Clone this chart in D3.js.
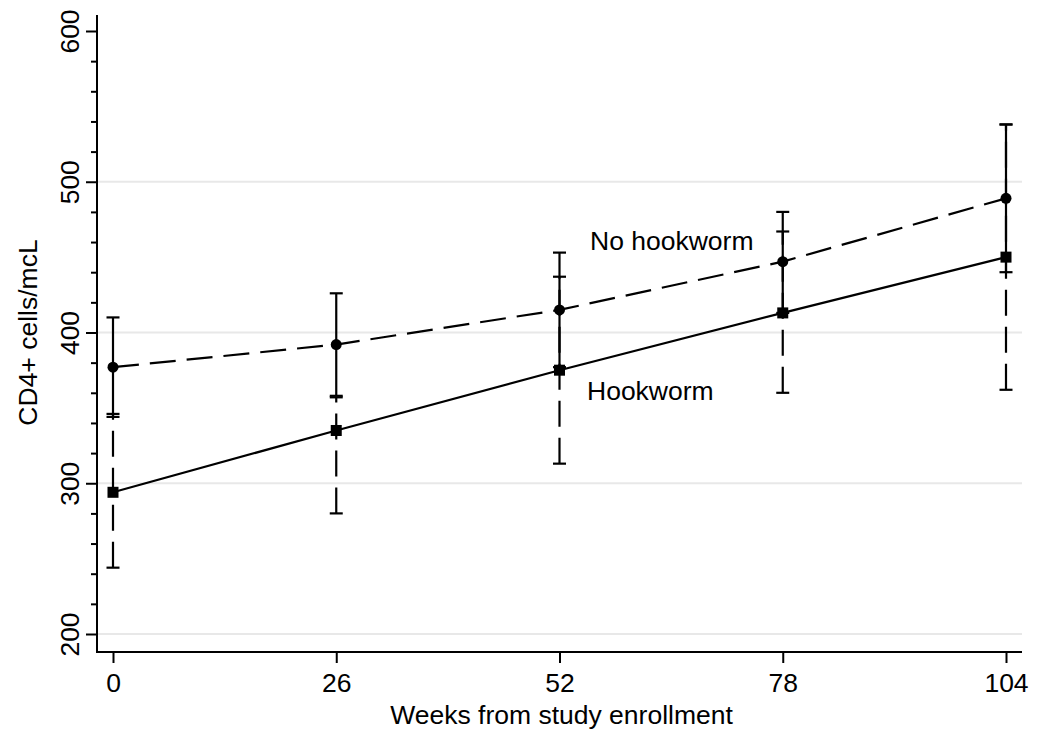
<!DOCTYPE html>
<html>
<head>
<meta charset="utf-8">
<script src="https://cdn.jsdelivr.net/npm/d3@7"></script>
<style>
  body { margin: 0; background: #fff; }
  text { font-family: Arial, "Liberation Sans", Helvetica, sans-serif; fill: #000; }
</style>
</head>
<body>
<svg id="chart" width="1043" height="730"></svg>
<script>
const weeks = [0, 26, 52, 78, 104];
const noHookMean  = [377, 392, 415, 447, 489];
const noHookLower = [344, 358, 377, 413, 440];
const noHookUpper = [410, 426, 453, 480, 538];
const hookMean  = [294, 335, 375, 413, 450];
const hookLower = [244, 280, 313, 360, 362];
const hookUpper = [346, 357, 437, 467, 538];
const xTicks = [0, 26, 52, 78, 104];
const yTicks = [200, 300, 400, 500, 600];
const yMinorTicks = d3.range(200, 601, 20).filter(v => v % 100 !== 0);
const seriesLabels = ["No hookworm", "Hookworm"];

const FS = 26.5;
const svg = d3.select("#chart");
const x = d3.scaleLinear().domain([0, 104]).range([113, 1006]);
const y = d3.scaleLinear().domain([200, 600]).range([634, 31]);
const plotLeft = 97, plotRight = 1022, plotTop = 15, plotBottom = 652;

// gridlines
svg.append("g").selectAll("line").data(yTicks.filter(v => v < 600)).join("line")
  .attr("x1", plotLeft).attr("x2", plotRight)
  .attr("y1", d => y(d)).attr("y2", d => y(d))
  .attr("stroke", "#e8e8e8").attr("stroke-width", 2);

// y axis
const yAxis = svg.append("g").attr("transform", `translate(${plotLeft},0)`)
  .call(d3.axisLeft(y).tickValues(yTicks).tickSize(11).tickFormat(d3.format("d")));
yAxis.select(".domain").remove();
yAxis.selectAll(".tick line").attr("stroke", "#000").attr("stroke-width", 2);
yAxis.selectAll(".tick text")
  .attr("font-size", FS).attr("x", 0).attr("dy", null)
  .attr("text-anchor", "middle")
  .attr("transform", "translate(-18,0) rotate(-90)")
  .attr("y", 0);
svg.append("g").attr("transform", `translate(${plotLeft},0)`)
  .call(d3.axisLeft(y).tickValues(yMinorTicks).tickSize(6).tickFormat(""))
  .call(g => g.select(".domain").remove())
  .selectAll(".tick line").attr("stroke", "#000").attr("stroke-width", 2);
svg.append("line").attr("x1", plotLeft).attr("x2", plotLeft)
  .attr("y1", plotTop).attr("y2", plotBottom + 1).attr("stroke", "#000").attr("stroke-width", 2);

// x axis
const xAxis = svg.append("g").attr("transform", `translate(0,${plotBottom})`)
  .call(d3.axisBottom(x).tickValues(xTicks).tickSize(11).tickFormat(d3.format("d")));
xAxis.select(".domain").remove();
xAxis.selectAll(".tick line").attr("stroke", "#000").attr("stroke-width", 2);
xAxis.selectAll(".tick text").attr("font-size", FS).attr("y", 40).attr("dy", null);
svg.append("line").attr("x1", plotLeft - 1).attr("x2", plotRight)
  .attr("y1", plotBottom).attr("y2", plotBottom).attr("stroke", "#000").attr("stroke-width", 2);

// axis titles
svg.append("text").attr("x", (plotLeft + plotRight) / 2 + 2).attr("y", 724)
  .attr("text-anchor", "middle").attr("font-size", FS).text("Weeks from study enrollment");
svg.append("text").attr("transform", `translate(37,${(y(200) + y(600)) / 2}) rotate(-90)`)
  .attr("text-anchor", "middle").attr("font-size", FS).text("CD4+ cells/mcL");

const dash = "26,11";
const capW = 13;

function drawCI(lower, upper, dashed) {
  const g = svg.append("g");
  weeks.forEach((w, i) => {
    g.append("line").attr("x1", x(w)).attr("x2", x(w))
      .attr("y1", y(lower[i])).attr("y2", y(upper[i]))
      .attr("stroke", "#000").attr("stroke-width", 2.2)
      .attr("stroke-dasharray", dashed ? dash : null);
    [lower[i], upper[i]].forEach(v => {
      g.append("line").attr("x1", x(w) - capW / 2).attr("x2", x(w) + capW / 2)
        .attr("y1", y(v)).attr("y2", y(v)).attr("stroke", "#000").attr("stroke-width", 2.2);
    });
  });
}
drawCI(hookLower, hookUpper, true);
drawCI(noHookLower, noHookUpper, false);

const line = d3.line().x((d, i) => x(weeks[i])).y(d => y(d));
svg.append("path").datum(noHookMean).attr("d", line)
  .attr("fill", "none").attr("stroke", "#000").attr("stroke-width", 2.2).attr("stroke-dasharray", dash);
svg.append("path").datum(hookMean).attr("d", line)
  .attr("fill", "none").attr("stroke", "#000").attr("stroke-width", 2.2);

svg.append("g").selectAll("circle").data(noHookMean).join("circle")
  .attr("cx", (d, i) => x(weeks[i])).attr("cy", d => y(d)).attr("r", 5.5).attr("fill", "#000");
svg.append("g").selectAll("rect").data(hookMean).join("rect")
  .attr("x", (d, i) => x(weeks[i]) - 5.5).attr("y", d => y(d) - 5.5)
  .attr("width", 11).attr("height", 11).attr("fill", "#000");

// series labels
svg.append("text").attr("x", 590).attr("y", 250).attr("font-size", FS).text(seriesLabels[0]);
svg.append("text").attr("x", 587).attr("y", 400).attr("font-size", FS).text(seriesLabels[1]);
</script>
</body>
</html>
